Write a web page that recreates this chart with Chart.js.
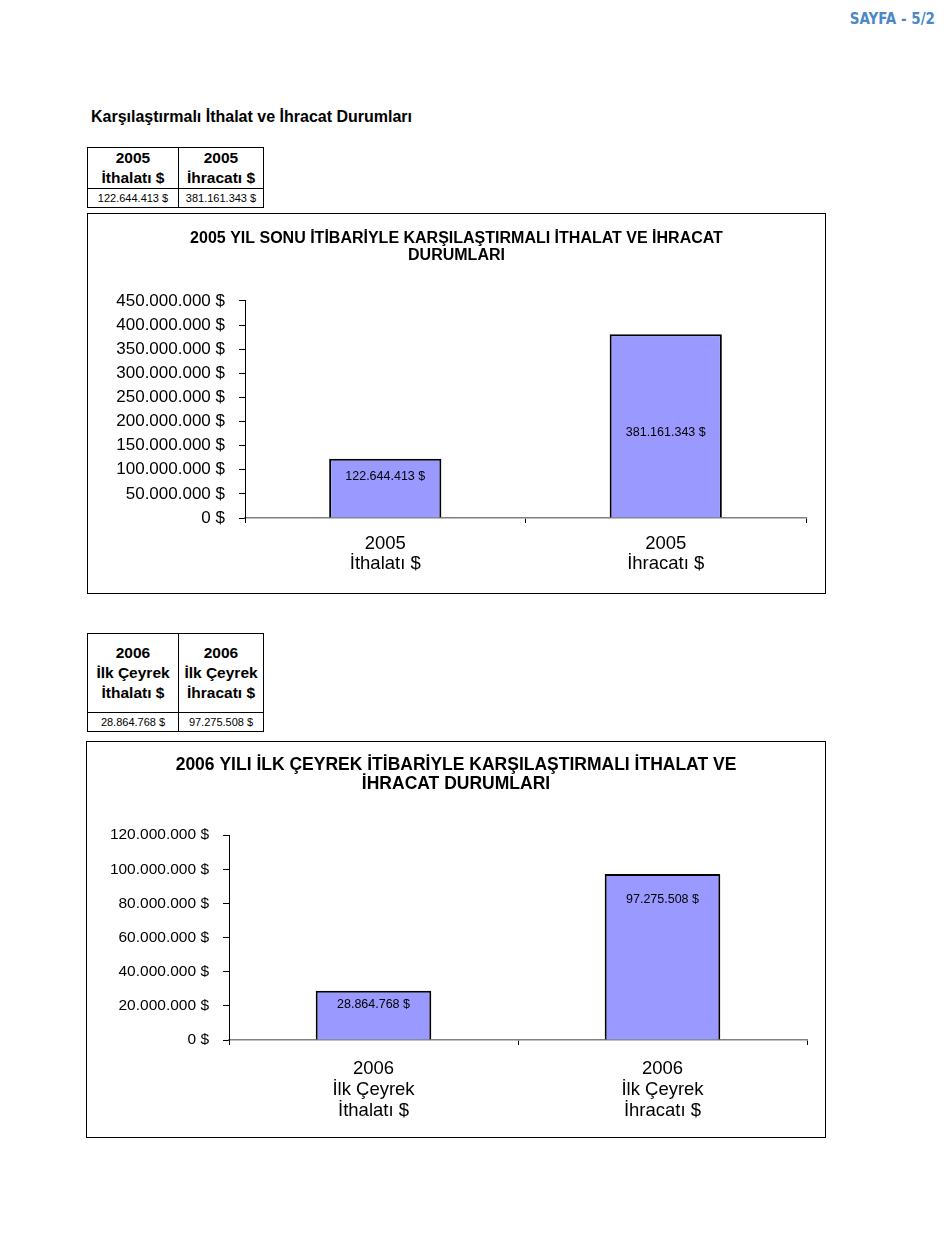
<!DOCTYPE html>
<html lang="tr">
<head>
<meta charset="utf-8">
<title>Karşılaştırmalı İthalat ve İhracat Durumları</title>
<script src="https://cdn.jsdelivr.net/npm/chart.js@4/dist/chart.umd.min.js"></script>
<style>
  html,body{margin:0;padding:0;background:#fff;}
  body{width:950px;height:1260px;position:relative;font-family:"Liberation Sans",Arial,sans-serif;color:#000;}
  .abs{position:absolute;}
  #sayfa{right:15px;top:10px;font-family:"DejaVu Sans Condensed","DejaVu Sans",sans-serif;font-stretch:condensed;font-weight:bold;font-size:15px;color:#4a88c6;}
  #head{left:91px;top:108px;font-weight:bold;font-size:16px;}
  table.t{border-collapse:collapse;}
  table.t td{border:1.5px solid #000;text-align:center;padding:0;}
  table.t td.h{font-weight:bold;font-size:15.5px;line-height:20px;}
  table.t td.v{font-size:11px;height:18px;}
  .box{border:1.5px solid #000;background:#fff;}
  .box canvas{display:block;}
</style>
</head>
<body>
<div id="sayfa" class="abs">SAYFA - 5/2</div>
<div id="head" class="abs">Karşılaştırmalı İthalat ve İhracat Durumları</div>

<table class="t abs" style="left:87px;top:147px;width:177px;">
  <tr><td class="h" style="width:90px;height:39px;">2005<br>İthalatı $</td><td class="h">2005<br>İhracatı $</td></tr>
  <tr><td class="v">122.644.413 $</td><td class="v">381.161.343 $</td></tr>
</table>
<div class="box abs" style="left:87px;top:213px;width:737px;height:379px;"><canvas id="c1" width="737" height="379"></canvas></div>

<table class="t abs" style="left:87px;top:633px;width:177px;">
  <tr><td class="h" style="width:90px;height:78px;">2006<br>İlk Çeyrek<br>İthalatı $</td><td class="h">2006<br>İlk Çeyrek<br>İhracatı $</td></tr>
  <tr><td class="v">28.864.768 $</td><td class="v">97.275.508 $</td></tr>
</table>
<div class="box abs" style="left:86px;top:741px;width:738px;height:395px;"><canvas id="c2" width="738" height="395"></canvas></div>

<script>
'use strict';
// 2005 yıl sonu
const cats2005=[['2005','İthalatı $'],['2005','İhracatı $']];
const vals2005=[122644413, 381161343];
const lblPos2005=[85000000, 178000000];   // etiketlerin yüksekliği (değer cinsinden)
const yMax2005=450000000, yStep2005=50000000;
// 2006 ilk çeyrek
const cats2006=[['2006','İlk Çeyrek','İthalatı $'],['2006','İlk Çeyrek','İhracatı $']];
const vals2006=[28864768, 97275508];
const lblPos2006=[21000000, 82000000];
const yMax2006=120000000, yStep2006=20000000;

const FONT='"Liberation Sans", Arial, sans-serif';
const dots=v=>String(Math.round(v)).replace(/\B(?=(\d{3})+(?!\d))/g,'.');
const money=v=>dots(v)+' $';

// bar içi değer etiketleri
const valLabels={
  id:'valLabels',
  afterDatasetsDraw(chart, args, opts){
    const ctx=chart.ctx, meta=chart.getDatasetMeta(0), ys=chart.scales.y;
    ctx.save(); ctx.fillStyle='#000'; ctx.font='12.5px '+FONT; ctx.textAlign='center'; ctx.textBaseline='middle';
    meta.data.forEach((b,i)=>{ ctx.fillText(money(chart.data.datasets[0].data[i]), b.x, ys.getPixelForValue(opts.pos[i])); });
    ctx.restore();
  }
};

function build(id, cfg){
  return new Chart(document.getElementById(id),{
    type:'bar',
    data:{labels:cfg.cats,datasets:[{data:cfg.vals,backgroundColor:'#9999ff',borderColor:'#000',borderWidth:2,borderSkipped:'bottom',categoryPercentage:0.4,barPercentage:1}]},
    plugins:[valLabels],
    options:{responsive:false,animation:false,devicePixelRatio:1,
      // sol/sağ eşit boşluk: başlık tuvalin ortasında kalsın
      layout:{padding:{left:cfg.pad,right:cfg.pad,top:0,bottom:0}},
      plugins:{legend:{display:false},tooltip:{enabled:false},
        valLabels:{pos:cfg.lblPos},
        title:{display:true,text:cfg.title,color:'#000',font:{family:FONT,size:cfg.titleSize,weight:'bold',lineHeight:cfg.titleLine},padding:{top:cfg.titleTop,bottom:cfg.titleBot}}},
      scales:{
        x:{offset:true,
          grid:{offset:true,drawOnChartArea:false,drawTicks:true,tickLength:5,color:'#000'},
          border:{display:true,color:'#808080',width:1.5},
          ticks:{color:'#000',font:{family:FONT,size:18.5,lineHeight:cfg.xLine},padding:cfg.xPad,maxRotation:0},
          afterFit:s=>{s.height=cfg.xH;}},
        y:{min:0,max:cfg.yMax,
          grid:{drawOnChartArea:false,drawTicks:true,tickLength:6,color:'#000'},
          border:{display:true,color:'#000',width:1},
          ticks:{stepSize:cfg.yStep,color:'#000',font:{family:FONT,size:cfg.ySize},padding:14,callback:v=>money(v)},
          afterFit:s=>{s.width=cfg.yW;}}
      }}
  });
}

build('c1',{cats:cats2005,vals:vals2005,lblPos:lblPos2005,yMax:yMax2005,yStep:yStep2005,
  title:['2005 YIL SONU İTİBARİYLE KARŞILAŞTIRMALI İTHALAT VE İHRACAT','DURUMLARI'],
  titleSize:16,titleLine:1.06,titleTop:16,titleBot:37,pad:19,yW:138,ySize:17,xH:75,xPad:11,xLine:1.08});
build('c2',{cats:cats2006,vals:vals2006,lblPos:lblPos2006,yMax:yMax2006,yStep:yStep2006,
  title:['2006 YILI İLK ÇEYREK İTİBARİYLE KARŞILAŞTIRMALI İTHALAT VE','İHRACAT DURUMLARI'],
  titleSize:17.5,titleLine:1.09,titleTop:14,titleBot:41,pad:18,yW:124,ySize:15.5,xH:97,xPad:13,xLine:1.14});
</script>
</body>
</html>
